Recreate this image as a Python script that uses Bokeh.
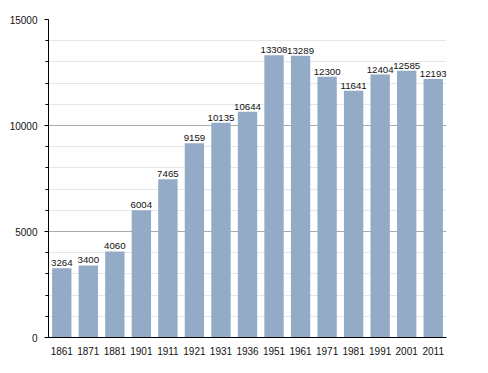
from bokeh.plotting import figure
from bokeh.models import ColumnDataSource, FixedTicker, Range1d
from bokeh.core.properties import value
from bokeh.embed import file_html
from bokeh.resources import INLINE

years = ["1861", "1871", "1881", "1901", "1911", "1921", "1931", "1936",
         "1951", "1961", "1971", "1981", "1991", "2001", "2011"]
population = [3264, 3400, 4060, 6004, 7465, 9159, 10135, 10644,
              13308, 13289, 12300, 11641, 12404, 12585, 12193]
y_ticks = [0, 5000, 10000, 15000]

src = ColumnDataSource(dict(x=years, y=population, lbl=[str(v) for v in population]))

p = figure(x_range=years, y_range=Range1d(0, 15000), width=472, height=357,
           output_backend="svg", toolbar_location=None,
           min_border_left=48, min_border_right=26, min_border_top=19, min_border_bottom=12)
p.x_range.range_padding = 0
p.outline_line_color = None
p.background_fill_color = "white"

p.vbar(x="x", top="y", width=0.73, source=src, fill_color="#94abc8", line_color=None)

p.text(x="x", y="y", text="lbl", source=src, text_align="center",
       text_baseline="bottom", y_offset=-2, text_font_size="9.7px",
       text_font=value("Liberation Sans"), text_color="#111111")

p.yaxis.ticker = FixedTicker(ticks=y_ticks, minor_ticks=list(range(0, 15001, 1000)))
p.yaxis.major_tick_in = 0
p.yaxis.major_tick_out = 4
p.yaxis.minor_tick_in = 0
p.yaxis.minor_tick_out = 3
p.yaxis.axis_line_color = "black"
p.yaxis.major_label_text_font = "Liberation Sans"
p.yaxis.major_label_text_font_size = "10px"
p.yaxis.major_label_text_color = "#111111"
p.yaxis.major_label_standoff = 7

p.xaxis.major_tick_line_color = None
p.xaxis.minor_tick_line_color = None
p.xaxis.axis_line_color = "black"
p.xaxis.major_label_text_font = "Liberation Sans"
p.xaxis.major_label_text_font_size = "10px"
p.xaxis.major_label_text_color = "#111111"
p.xaxis.major_label_standoff = 3

p.xgrid.grid_line_color = None
p.ygrid.grid_line_color = "#aaaaaa"
p.ygrid.minor_grid_line_color = "#e6e6e6"
p.ygrid.level = "underlay"

open("out.html", "w").write(file_html(p, INLINE))
